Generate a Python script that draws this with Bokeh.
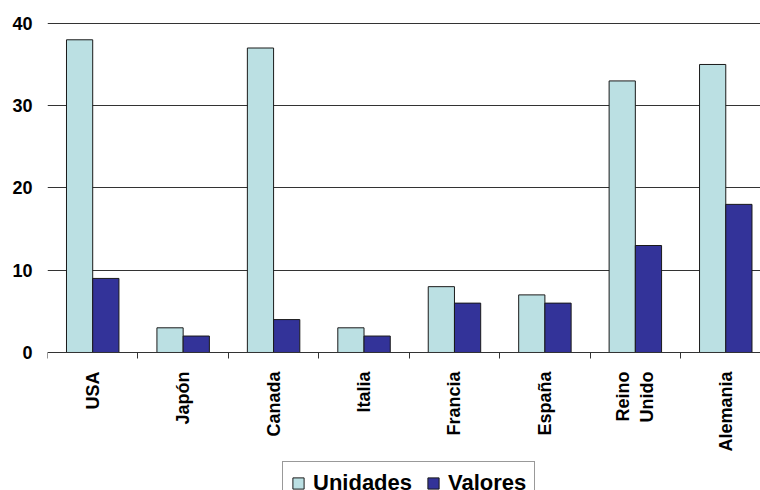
import math
from bokeh.plotting import figure
from bokeh.models import (ColumnDataSource, FixedTicker, Range1d, Legend, LegendItem)
from bokeh.embed import file_html
from bokeh.resources import INLINE

# Data
paises = ["USA", "Japón", "Canada", "Italia", "Francia", "España", "Reino\nUnido", "Alemania"]
unidades = [38, 3, 37, 3, 8, 7, 33, 35]
valores = [9, 2, 4, 2, 6, 6, 13, 18]
y_ticks = [0, 10, 20, 30, 40]

FONT = "Liberation Sans"
LIGHT = "#BBE0E3"
DARK = "#333399"

idx = list(range(len(paises)))
src = ColumnDataSource(dict(
    x_u=[i + 0.355 for i in idx],
    x_v=[i + 0.645 for i in idx],
    unidades=unidades,
    valores=valores,
))

# The frame runs to the bottom of the canvas; the category axis sits at y = 0
p = figure(width=760, height=490, output_backend="svg", toolbar_location=None,
           x_range=Range1d(0, 7.884), y_range=Range1d(-16.77, 40.1),
           min_border_left=47, min_border_right=0, min_border_top=22,
           min_border_bottom=0)
p.outline_line_color = None
p.background_fill_color = "white"
p.border_fill_color = "white"

r_u = p.vbar(x="x_u", top="unidades", bottom=0, width=0.29, source=src,
             fill_color=LIGHT, line_color="#1a1a1a", line_width=1)
r_v = p.vbar(x="x_v", top="valores", bottom=0, width=0.29, source=src,
             fill_color=DARK, line_color="#1a1a1a", line_width=1)

# x axis: labels at category centres, tick marks at category boundaries
xa = p.xaxis[0]
xa.fixed_location = 0
xa.ticker = FixedTicker(ticks=[i + 0.5 for i in idx], minor_ticks=list(range(len(paises))))
xa.major_label_overrides = {i + 0.5: name for i, name in enumerate(paises)}
xa.major_label_orientation = math.pi / 2
xa.major_tick_out = 0
xa.major_tick_in = 0
xa.minor_tick_out = 6
xa.minor_tick_in = 0
xa.minor_tick_line_color = "#333333"
xa.axis_line_color = "#333333"
xa.major_label_standoff = 13
xa.major_label_text_font = FONT
xa.major_label_text_font_style = "bold"
xa.major_label_text_font_size = "18px"
xa.major_label_text_color = "black"

ya = p.yaxis[0]
ya.ticker = FixedTicker(ticks=y_ticks)
ya.axis_line_color = None
ya.major_tick_out = 0
ya.major_tick_in = 0
ya.minor_tick_out = 0
ya.minor_tick_in = 0
ya.major_label_standoff = 15
ya.major_label_text_font = FONT
ya.major_label_text_font_style = "bold"
ya.major_label_text_font_size = "18px"
ya.major_label_text_color = "black"

p.xgrid.grid_line_color = None
p.ygrid.ticker = FixedTicker(ticks=y_ticks[1:])
p.ygrid.grid_line_color = "#333333"
p.ygrid.grid_line_width = 1

legend = Legend(items=[LegendItem(label="Unidades", renderers=[r_u]),
                       LegendItem(label="Valores", renderers=[r_v])],
                orientation="horizontal", location=(235, -15),
                label_text_font=FONT, label_text_font_style="bold",
                label_text_font_size="22px", label_text_color="black",
                glyph_width=14, glyph_height=14, label_standoff=8,
                spacing=14, padding=8, margin=0,
                border_line_color="#333333", border_line_width=1,
                background_fill_color="white", background_fill_alpha=1)
p.add_layout(legend, "center")

open("out.html", "w").write(file_html(p, INLINE))
